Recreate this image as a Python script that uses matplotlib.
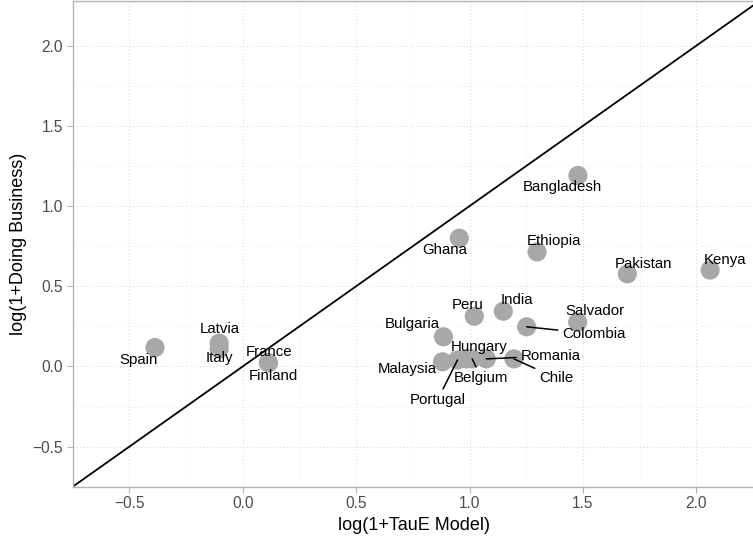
import numpy as np
import matplotlib.pyplot as plt

plt.rcParams['font.family'] = ['Liberation Sans', 'DejaVu Sans']

# data
countries = ["Spain", "Latvia", "Italy", "France", "Finland", "Ghana", "Bangladesh",
             "Ethiopia", "Pakistan", "Kenya", "Peru", "India", "Salvador", "Colombia",
             "Bulgaria", "Malaysia", "Portugal", "Hungary", "Belgium", "Romania", "Chile"]
taue = [-0.387, -0.104, -0.104, 0.113, 0.113, 0.955, 1.478,
        1.298, 1.696, 2.061, 1.021, 1.149, 1.477, 1.252,
        0.885, 0.881, 0.947, 0.986, 1.012, 1.074, 1.196]
doing_business = [0.118, 0.145, 0.11, 0.023, 0.023, 0.80, 1.191,
                  0.714, 0.577, 0.601, 0.313, 0.344, 0.276, 0.247,
                  0.185, 0.029, 0.04, 0.047, 0.047, 0.047, 0.047]

# label offsets in pixels (dx right, dy up) and whether a segment is drawn
label_dx = [-16, 1, 0, 1, 5, -15, -16, 17, 16, 15, -7, 14, 17, 67,
            -31, -35, -20, 13, 9, 64, 42]
label_dy = [-12, 14, -9, 11, -13, -12, -12, 11, 10, 10, 11, 11, 11, -7,
            13, -7, -40, 12, -19, 3, -19]
segment = [False] * 13 + [True, False, False, True, False, True, True, True]

fig = plt.figure(figsize=(7.53, 5.38), dpi=100)
ax = fig.add_axes([72.7 / 753, 51.3 / 538, (753 - 72.7 + 2) / 753, (486.7 - 0.5) / 538])

ax.set_xlim(-0.722, 2.259)
ax.set_ylim(-0.716, 2.282)

ax.set_xticks([-0.5, 0.0, 0.5, 1.0, 1.5, 2.0])
ax.set_yticks([-0.5, 0.0, 0.5, 1.0, 1.5, 2.0])
ax.set_xticks(np.arange(-0.75, 2.3, 0.5), minor=True)
ax.set_yticks(np.arange(-0.75, 2.3, 0.5), minor=True)
ax.set_xticklabels(["\u22120.5", "0.0", "0.5", "1.0", "1.5", "2.0"])
ax.set_yticklabels(["\u22120.5", "0.0", "0.5", "1.0", "1.5", "2.0"])

ax.grid(True, which='major', color='#dcdcdc', linestyle=(0, (1, 2)), linewidth=0.8)
ax.grid(True, which='minor', color='#ebebeb', linestyle=(0, (1, 2)), linewidth=0.6)
ax.set_axisbelow(True)

for side in ['left', 'bottom', 'top']:
    ax.spines[side].set_color('#b3b3b3')
    ax.spines[side].set_linewidth(1.0)
ax.spines['right'].set_visible(False)

ax.tick_params(which='major', length=4, color='#b3b3b3', labelcolor='#4d4d4d', labelsize=11.2, pad=3)
ax.tick_params(which='minor', length=0)

# 45 degree reference line
ax.axline((0, 0), slope=1, color='black', linewidth=1.3, zorder=2)

ax.scatter(taue, doing_business, s=190, color='#a8a8a8', edgecolors='none', zorder=3)

for i, name in enumerate(countries):
    if segment[i]:
        ax.annotate(name, (taue[i], doing_business[i]), xytext=(label_dx[i], label_dy[i]),
                    textcoords='offset pixels', ha='center', va='center', fontsize=10.8,
                    color='black', zorder=4,
                    arrowprops=dict(arrowstyle='-', color='black', lw=1.1, shrinkA=1, shrinkB=0))
    else:
        ax.annotate(name, (taue[i], doing_business[i]), xytext=(label_dx[i], label_dy[i]),
                    textcoords='offset pixels', ha='center', va='center', fontsize=10.8,
                    color='black', zorder=4)

ax.set_xlabel("log(1+TauE Model)", fontsize=13, labelpad=4)
ax.set_ylabel("log(1+Doing Business)", fontsize=13, labelpad=4)

fig.savefig("out.png", dpi=100)
